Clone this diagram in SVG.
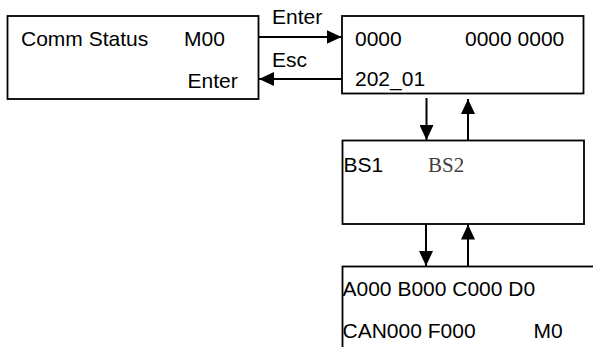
<svg xmlns="http://www.w3.org/2000/svg" width="593" height="347" viewBox="0 0 593 347">
<style>
.box{fill:#fff;stroke:#000;stroke-width:1.8}
.t{font-family:"Liberation Sans",Arial,sans-serif;font-size:21px;fill:#000}
.s{font-family:"Liberation Serif","Times New Roman",serif;font-size:21px;fill:#404040}
.c{stroke:#000;stroke-width:2;fill:none;marker-end:url(#ah)}
</style>
<defs>
<marker id="ah" viewBox="0 0 15 14" refX="15" refY="7" markerWidth="15" markerHeight="14" markerUnits="userSpaceOnUse" orient="auto">
<path d="M0,0 L15,7 L0,14 z" fill="#000"/>
</marker>
</defs>
<rect width="593" height="347" fill="#fff"/>
<g id="connectors">
<line class="c" x1="258.5" y1="37" x2="341.5" y2="37"/>
<text class="t" x="272" y="24">Enter</text>
<line class="c" x1="342" y1="79" x2="259" y2="79"/>
<text class="t" x="272" y="67">Esc</text>
<line class="c" x1="426.5" y1="98" x2="426.5" y2="140"/>
<line class="c" x1="468" y1="140" x2="468" y2="99"/>
<line class="c" x1="426" y1="224" x2="426" y2="266"/>
<line class="c" x1="468" y1="266" x2="468" y2="224.5"/>
</g>
<g id="node-comm">
<rect class="box" x="7.5" y="16" width="251" height="83"/>
<text class="t" x="21" y="46">Comm Status</text>
<text class="t" x="184" y="46">M00</text>
<text class="t" x="187.5" y="88">Enter</text>
</g>
<g id="node-code">
<rect class="box" x="342" y="16" width="241.5" height="77.5"/>
<text class="t" x="355" y="46">0000</text>
<text class="t" x="465" y="46">0000 0000</text>
<text class="t" x="355" y="86">202_01</text>
</g>
<g id="node-bs">
<rect class="box" x="342.5" y="140.5" width="241.5" height="83.5"/>
<text class="t" x="343.5" y="172">BS1</text>
<text class="s" x="428" y="172">BS2</text>
</g>
<g id="node-data">
<rect class="box" x="342.5" y="266.5" width="270" height="100"/>
<text class="t" x="342.5" y="296">A000 B000 C000 D0</text>
<text class="t" x="342.5" y="338">CAN000 F000</text>
<text class="t" x="533.5" y="338">M0</text>
</g>
</svg>
